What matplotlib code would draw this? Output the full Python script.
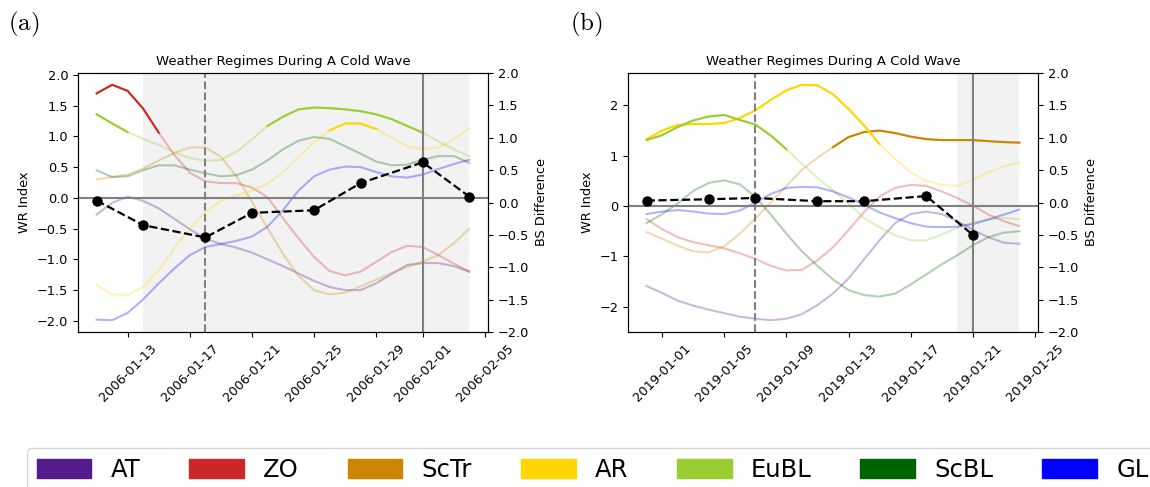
import numpy as np
import pandas as pd
import matplotlib
matplotlib.use("Agg")
import matplotlib.pyplot as plt
from matplotlib.patches import Patch

plt.rcParams["mathtext.fontset"] = "cm"

regimes = ["AT", "ZO", "ScTr", "AR", "EuBL", "ScBL", "GL"]
colors = ["#551a8b", "#cd2828", "#cd8500", "#ffd700", "#9acd32", "#006400", "#0000ff"]

#%% Cold wave 2006
dates_a = pd.date_range("2006-01-11", periods=25, freq="D")
wr_a = {
    "AT":   [-0.27, -0.08, 0.02, -0.05, -0.17, -0.34, -0.51, -0.66, -0.75, -0.81, -0.89, -1.00, -1.11,
             -1.23, -1.35, -1.45, -1.50, -1.50, -1.39, -1.24, -1.09, -1.06, -1.06, -1.11, -1.20],
    "ZO":   [1.70, 1.84, 1.74, 1.45, 1.06, 0.70, 0.41, 0.27, 0.24, 0.24, 0.17, 0.01, -0.33,
             -0.66, -0.96, -1.19, -1.26, -1.20, -1.04, -0.88, -0.78, -0.80, -0.93, -1.07, -1.20],
    "ScTr": [0.30, 0.34, 0.38, 0.48, 0.61, 0.73, 0.82, 0.82, 0.67, 0.35, -0.06, -0.49, -0.91,
             -1.27, -1.50, -1.57, -1.54, -1.44, -1.33, -1.22, -1.12, -1.04, -0.93, -0.74, -0.50],
    "AR":   [-1.42, -1.57, -1.58, -1.45, -1.18, -0.82, -0.50, -0.23, -0.05, 0.04, 0.12, 0.23, 0.42,
             0.67, 0.91, 1.10, 1.21, 1.21, 1.12, 0.98, 0.84, 0.79, 0.82, 0.95, 1.13],
    "EuBL": [1.36, 1.21, 1.07, 0.96, 0.86, 0.74, 0.65, 0.60, 0.62, 0.75, 0.95, 1.17, 1.32,
             1.44, 1.47, 1.46, 1.44, 1.41, 1.36, 1.28, 1.17, 1.06, 0.92, 0.79, 0.68],
    "ScBL": [0.45, 0.34, 0.35, 0.45, 0.53, 0.53, 0.46, 0.40, 0.35, 0.37, 0.46, 0.61, 0.79,
             0.93, 0.99, 0.96, 0.84, 0.72, 0.59, 0.53, 0.54, 0.62, 0.68, 0.68, 0.57],
    "GL":   [-1.98, -1.99, -1.87, -1.65, -1.39, -1.15, -0.93, -0.80, -0.75, -0.70, -0.63, -0.47, -0.20,
             0.12, 0.35, 0.46, 0.51, 0.50, 0.42, 0.35, 0.33, 0.38, 0.47, 0.55, 0.62],
}
bs_dates_a = pd.to_datetime(["2006-01-11", "2006-01-14", "2006-01-18", "2006-01-21",
                             "2006-01-25", "2006-01-28", "2006-02-01", "2006-02-04"])
bs_a = [0.03, -0.35, -0.54, -0.16, -0.12, 0.30, 0.62, 0.09]
span_a = ("2006-01-14", "2006-02-04")
onset_a = "2006-01-18"
peak_a = "2006-02-01"

#%% Cold wave 2019
dates_b = pd.date_range("2018-12-31", periods=25, freq="D")
wr_b = {
    "AT":   [-1.59, -1.73, -1.88, -1.98, -2.06, -2.13, -2.20, -2.24, -2.27, -2.24, -2.15, -1.97, -1.74,
             -1.44, -1.06, -0.68, -0.34, -0.16, -0.11, -0.16, -0.30, -0.47, -0.62, -0.73, -0.75],
    "ZO":   [-0.26, -0.46, -0.62, -0.72, -0.78, -0.84, -0.94, -1.05, -1.19, -1.28, -1.27, -1.08, -0.82,
             -0.48, -0.12, 0.19, 0.36, 0.42, 0.40, 0.29, 0.16, 0.01, -0.17, -0.30, -0.40],
    "ScTr": [-0.52, -0.65, -0.79, -0.90, -0.92, -0.80, -0.55, -0.25, 0.07, 0.40, 0.72, 0.96, 1.17,
             1.37, 1.47, 1.50, 1.45, 1.38, 1.33, 1.31, 1.31, 1.31, 1.29, 1.27, 1.26],
    "AR":   [1.33, 1.50, 1.61, 1.63, 1.63, 1.65, 1.75, 1.90, 2.11, 2.30, 2.41, 2.40, 2.22,
             1.93, 1.60, 1.23, 0.94, 0.67, 0.50, 0.42, 0.40, 0.52, 0.67, 0.79, 0.86],
    "EuBL": [1.31, 1.41, 1.57, 1.70, 1.78, 1.81, 1.71, 1.62, 1.40, 1.13, 0.84, 0.56, 0.31,
             0.05, -0.24, -0.42, -0.58, -0.68, -0.68, -0.57, -0.43, -0.33, -0.26, -0.24, -0.26],
    "ScBL": [-0.34, -0.16, 0.05, 0.30, 0.46, 0.51, 0.43, 0.18, -0.17, -0.55, -0.90, -1.19, -1.46,
             -1.67, -1.77, -1.80, -1.74, -1.56, -1.36, -1.16, -0.98, -0.78, -0.62, -0.53, -0.50],
    "GL":   [-0.16, -0.11, -0.08, -0.11, -0.15, -0.16, -0.09, 0.07, 0.24, 0.36, 0.38, 0.37, 0.29,
             0.17, 0.03, -0.13, -0.24, -0.34, -0.41, -0.42, -0.41, -0.36, -0.27, -0.17, -0.07],
}
bs_dates_b = pd.to_datetime(["2018-12-31", "2019-01-04", "2019-01-07", "2019-01-11",
                             "2019-01-14", "2019-01-18", "2019-01-21"])
bs_b = [0.03, 0.05, 0.07, 0.02, 0.02, 0.10, -0.50]
span_b = ("2019-01-20", "2019-01-24")
onset_b = "2019-01-07"
peak_b = "2019-01-21"

FS = 9.3


def panel(ax, dates, wr, bs_dates, bs, span, onset, peak):
    ax.axvspan(pd.Timestamp(span[0]), pd.Timestamp(span[1]), color="gray", alpha=0.1, lw=0)
    for name, c in zip(regimes, colors):
        v = np.array(wr[name])
        ax.plot(dates, v, color=c, alpha=0.3, lw=1.5)
        # regime active when index above 1
        ax.plot(dates, np.ma.masked_where(v <= 1.0, v), color=c, lw=1.5)
    ax.axhline(0, color="gray", lw=1.5)
    ax.axvline(pd.Timestamp(onset), color="gray", ls="--", lw=1.5)
    ax.axvline(pd.Timestamp(peak), color="gray", lw=1.5)
    ax.set_ylabel("WR Index", fontsize=FS)
    ax.set_title("Weather Regimes During A Cold Wave", fontsize=9.5)
    ax.tick_params(labelsize=FS)
    for lab in ax.get_xticklabels():
        lab.set_rotation(45)
    ax2 = ax.twinx()
    ax2.plot(bs_dates, bs, "k--o", lw=1.6, ms=6.5)
    ax2.set_ylim(-2, 2)
    ax2.set_ylabel("BS Difference", fontsize=FS)
    ax2.tick_params(labelsize=FS)
    return ax2


fig = plt.figure(figsize=(11.5, 4.87), dpi=100)
ax_a = fig.add_axes([78 / 1150, 1 - 332 / 487, 410 / 1150, 259 / 487])
ax_b = fig.add_axes([628 / 1150, 1 - 332 / 487, 410 / 1150, 259 / 487])
panel(ax_a, dates_a, wr_a, bs_dates_a, bs_a, span_a, onset_a, peak_a)
panel(ax_b, dates_b, wr_b, bs_dates_b, bs_b, span_b, onset_b, peak_b)
for ax in (ax_a, ax_b):
    plt.setp(ax.get_xticklabels(), rotation=45)

fig.text(8 / 1150, 1 - 10 / 487, r"$\mathrm{(a)}$", fontsize=18, va="top")
fig.text(570 / 1150, 1 - 10 / 487, r"$\mathrm{(b)}$", fontsize=18, va="top")

handles = [Patch(color=c, label=n) for n, c in zip(regimes, colors)]
fig.legend(handles=handles, loc="upper left", bbox_to_anchor=(27 / 1150, 1 - 448 / 487),
           ncol=7, fontsize=17.5, handlelength=2.25, handleheight=0.85,
           frameon=True, borderaxespad=0)

fig.savefig("out.png", dpi=100)
